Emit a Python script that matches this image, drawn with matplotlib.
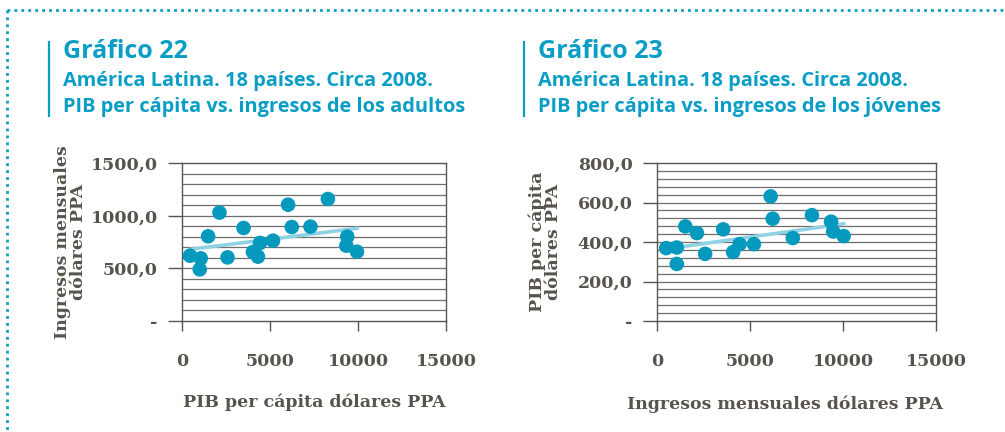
import matplotlib
matplotlib.use("Agg")
import matplotlib.pyplot as plt
import numpy as np
from matplotlib.lines import Line2D

# Grafico 22: PIB per capita vs ingresos de los adultos
pib_22 = [456, 1065, 1008, 1483, 2130, 2586, 3498, 4030, 4316, 4430, 5171,
          6027, 6236, 7300, 8289, 9392, 9335, 9943]
ing_22 = [620, 595, 490, 804, 1029, 604, 883, 655, 611, 741, 763,
          1104, 892, 896, 1158, 801, 715, 658]
# linea de tendencia (extremos)
tend_x_22 = [456, 9943]
tend_y_22 = [680, 880]

# Grafico 23: PIB per capita vs ingresos de los jovenes
pib_23 = [495, 1064, 1064, 1523, 2147, 2587, 3560, 4092, 4440, 5211, 6110,
          6220, 7303, 8330, 9358, 9468, 10037]
ing_23 = [369, 372, 289, 479, 445, 340, 464, 349, 389, 389, 631,
          518, 420, 536, 503, 453, 430]
tend_x_23 = [495, 10037]
tend_y_23 = [365, 492]

yticks_22 = [0, 500, 1000, 1500]
ylabels_22 = ["-", "500,0", "1000,0", "1500,0"]
yticks_23 = [0, 200, 400, 600, 800]
ylabels_23 = ["-", "200,0", "400,0", "600,0", "800,0"]
xticks = [0, 5000, 10000, 15000]

titulo_22 = ["Gráfico 22", "América Latina. 18 países. Circa 2008.",
             "PIB per cápita vs. ingresos de los adultos"]
titulo_23 = ["Gráfico 23", "América Latina. 18 países. Circa 2008.",
             "PIB per cápita vs. ingresos de los jóvenes"]

azul = "#0a9ec6"
punto = "#0599bd"
tendencia = "#8ed2e4"
gris = "#57544d"

W, H = 1005, 432
fig = plt.figure(figsize=(W / 100, H / 100), dpi=100)

def px(x0, y0, x1, y1):
    return [x0 / W, 1 - y1 / H, (x1 - x0) / W, (y1 - y0) / H]

def dibujar(ax, x, y, tx, ty, ymax, paso, yt, yl, xlabel, ylabel):
    for v in np.arange(paso, ymax, paso):
        ax.axhline(v, color="#6e6e6e", lw=0.9, zorder=1)
    ax.plot(tx, ty, color=tendencia, lw=2.6, zorder=2)
    ax.scatter(x, y, s=110, color=punto, edgecolors="none", zorder=3)
    ax.set_xlim(0, 15000)
    ax.set_ylim(0, ymax)
    ax.set_yticks(yt)
    ax.set_yticklabels(yl)
    ax.set_xticks(xticks)
    ax.set_xticklabels([str(t) for t in xticks])
    ax.tick_params(axis="y", length=10, width=1, color="#555555", pad=7.5,
                   labelsize=12.5, labelcolor=gris)
    ax.tick_params(axis="x", length=7, width=1, color="#555555", pad=16,
                   labelsize=12.5, labelcolor=gris)
    for lab in ax.get_xticklabels() + ax.get_yticklabels():
        lab.set_fontfamily("DejaVu Serif")
        lab.set_fontweight("bold")
    for s in ax.spines.values():
        s.set_color("#555555")
        s.set_linewidth(1)
    ax.set_xlabel(xlabel, fontsize=12.5, fontweight="bold", color=gris,
                  family="DejaVu Serif", labelpad=17)
    ax.set_ylabel(ylabel, fontsize=12.5, fontweight="bold", color=gris,
                  family="DejaVu Serif", linespacing=0.9)
    ax.yaxis.set_label_coords(-0.36, 0.5)

ax1 = fig.add_axes(px(182, 163, 446, 321))
dibujar(ax1, pib_22, ing_22, tend_x_22, tend_y_22, 1500, 100,
        yticks_22, ylabels_22,
        "PIB per cápita dólares PPA", "Ingresos mensuales\ndólares PPA")

ax2 = fig.add_axes(px(657, 163, 936, 321))
dibujar(ax2, pib_23, ing_23, tend_x_23, tend_y_23, 800, 40,
        yticks_23, ylabels_23,
        "Ingresos mensuales dólares PPA", "PIB per cápita\ndólares PPA")
ax2.yaxis.set_label_coords(-0.34, 0.5)
ax2.xaxis.set_label_coords(0.46, -0.47)

# titulos
for x0, bar_x, t in [(63, 49, titulo_22), (538, 524, titulo_23)]:
    fig.add_artist(Line2D([bar_x / W, bar_x / W], [1 - 42 / H, 1 - 116 / H],
                          color=azul, lw=1.6))
    fig.text(x0 / W, 1 - 51 / H, t[0], fontsize=18, fontweight="bold",
             color=azul, family="Open Sans", va="center")
    fig.text(x0 / W, 1 - 81 / H, t[1], fontsize=14.4, fontweight="bold",
             color=azul, family="Open Sans", va="center")
    fig.text(x0 / W, 1 - 107 / H, t[2], fontsize=14.4, fontweight="bold",
             color=azul, family="Open Sans", va="center")

# borde punteado
fig.add_artist(Line2D([7 / W, 1], [1 - 10 / H, 1 - 10 / H], color=azul,
                      lw=2, linestyle=(0, (1, 1.5)), solid_capstyle="round"))
fig.add_artist(Line2D([7 / W, 7 / W], [1 - 10 / H, 0], color=azul,
                      lw=2, linestyle=(0, (1, 1.5))))

fig.savefig("out.png", dpi=100)
